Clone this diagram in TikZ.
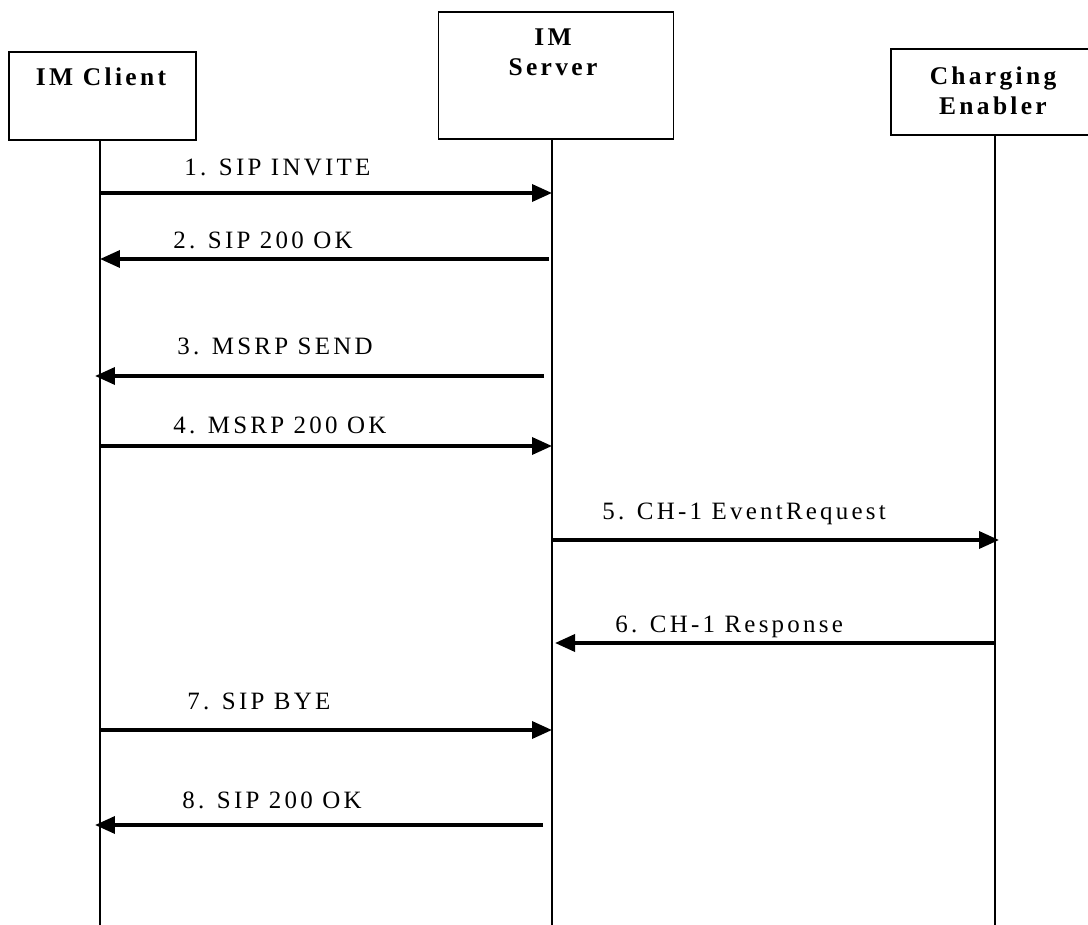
\documentclass[tikz,border=0pt]{standalone}
\usepackage{fontspec}
\setmainfont{Liberation Serif}
\newfontfamily\seqfont{Liberation Serif}[LetterSpace=13]
\usetikzlibrary{arrows.meta,positioning}

\begin{document}
\begin{tikzpicture}[x=0.02cm, y=-0.02cm,
	actor/.style={draw, line width=1pt, inner sep=0pt, anchor=north},
	title/.style={inner sep=0pt, align=center, font=\seqfont\bfseries\fontsize{14.5}{17.5}\selectfont},
	msglabel/.style={inner sep=0pt, anchor=base west, font=\seqfont\fontsize{14.2}{17}\selectfont},
	lifeline/.style={line width=1pt},
	msg/.style={line width=2pt, -{Triangle[length=0.4cm,width=0.34cm]}}]
	\useasboundingbox (0,0) rectangle (1088,925);
	\coordinate (bottom) at (0,925);

	% participants
	\node[actor, minimum width=3.74cm, minimum height=1.76cm] (client) at (102.5,51) {};
	\node[title, below=0.33cm of client.north, xshift=-0.03cm] (clienttitle) {IM Client};
	\node[actor, minimum width=4.7cm, minimum height=2.54cm] (server) at (556,11) {};
	\node[title, below=0.34cm of server.north, xshift=-0.06cm] (servertitle) {IM\\Server};
	\node[actor, minimum width=4.16cm, minimum height=1.72cm] (charging) at (995,48) {};
	\node[title, below=0.36cm of charging.north, xshift=-0.04cm] (chargingtitle) {Charging\\Enabler};

	% lifelines
	\coordinate (clientlife) at (client.south -| 100,0);
	\coordinate (serverlife) at (server.south -| 552,0);
	\coordinate (charginglife) at (charging.south -| 995,0);
	\draw[lifeline] (clientlife) -- (clientlife |- bottom);
	\draw[lifeline] (serverlife) -- (serverlife |- bottom);
	\draw[lifeline] (charginglife) -- (charginglife |- bottom);

	% messages
	\draw[msg] (clientlife |- 0,193) -- (serverlife |- 0,193);
	\node[msglabel] (m1) at (184,176) {1. SIP INVITE};
	\draw[msg, shorten <=0.06cm] (serverlife |- 0,259) -- (clientlife |- 0,259);
	\node[msglabel] (m2) at (173,249) {2. SIP 200 OK};
	\draw[msg, shorten <=0.16cm, shorten >=-0.1cm] (serverlife |- 0,376) -- (clientlife |- 0,376);
	\node[msglabel] (m3) at (177,355) {3. MSRP SEND};
	\draw[msg] (clientlife |- 0,446) -- (serverlife |- 0,446);
	\node[msglabel] (m4) at (173,434) {4. MSRP 200 OK};
	\draw[msg, shorten >=-0.08cm] (serverlife |- 0,540) -- (charginglife |- 0,540);
	\node[msglabel] (m5) at (602,519) {5. CH-1 EventRequest};
	\draw[msg, shorten >=0.06cm] (charginglife |- 0,643) -- (serverlife |- 0,643);
	\node[msglabel] (m6) at (615,632) {6. CH-1 Response};
	\draw[msg] (clientlife |- 0,730) -- (serverlife |- 0,730);
	\node[msglabel] (m7) at (187,709) {7. SIP BYE};
	\draw[msg, shorten <=0.18cm, shorten >=-0.1cm] (serverlife |- 0,825) -- (clientlife |- 0,825);
	\node[msglabel] (m8) at (182,808) {8. SIP 200 OK};
\end{tikzpicture}
\end{document}
